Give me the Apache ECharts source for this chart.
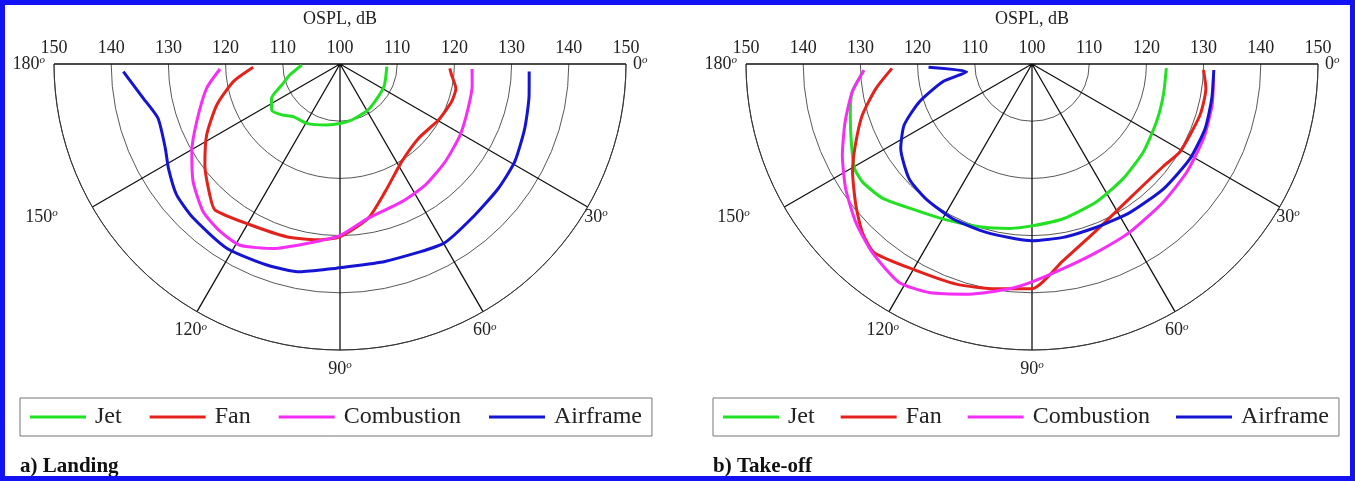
<!DOCTYPE html>
<html>
<head>
<meta charset="utf-8">
<script src="https://cdn.jsdelivr.net/npm/echarts@6/dist/echarts.min.js"></script>
<style>
html,body{margin:0;padding:0;background:#fff;}
#chart{width:1355px;height:481px;}
</style>
</head>
<body>
<div id="chart"></div>
<script>
// ---- data: [OSPL dB, directivity angle deg] ----
const seriesNames = ['Jet', 'Fan', 'Combustion', 'Airframe'];
const levelTicks = [100, 110, 120, 130, 140, 150];
const angleTicks = [0, 30, 60, 90, 120, 150, 180];
const panelTitles = ['a) Landing', 'b) Take-off'];

const landingJet = [[106.7,178.5],[109.0,167.6],[110.8,160.2],[113.4,153.3],[114.4,146.0],[113.5,138.8],[112.3,131.6],[111.9,119.3],[110.9,102.3],[110.4,90],[110.0,78.2],[109.4,58.4],[108.8,40.5],[108.6,25.4],[108.2,3.3]];
const landingFan = [[115.2,177.8],[118.9,170.6],[122.7,161.6],[126.4,152.0],[129.5,143.2],[132.3,134.8],[133.6,130.6],[132.2,119.2],[131.6,107.2],[131.0,97.5],[130.2,90],[127.4,79.6],[123.7,70.6],[120.2,57.7],[118.9,43.5],[119.8,29.7],[120.6,18.6],[120.7,11.9],[119.6,5.6],[119.2,2.3]];
const landingCombustion = [[121.0,177.6],[123.7,169.7],[127.0,158.1],[130.1,149.4],[132.9,141.3],[135.2,132.8],[136.0,125.6],[136.2,118.9],[134.3,109.9],[131.9,100.5],[130.0,90],[127.4,79.6],[126.4,65.9],[125.9,54.9],[125.1,42.9],[124.4,30.6],[123.7,19.1],[123.4,9.0],[123.1,2.2]];
const landingAirframe = [[137.9,178],[134.9,170.1],[133.2,163.4],[133.9,154.3],[135.1,148.7],[136.6,141.3],[137.2,133.6],[137.8,121.6],[137.4,110.0],[137.0,100.9],[135.7,91],[135.6,90],[135.4,77.2],[136.2,60],[135.4,48.2],[135.2,38.1],[135.0,29.2],[134.2,19.2],[133.5,9.3],[133.1,2.3]];

const takeoffJet = [[129.4,177.9],[131.8,171.2],[133.0,164.3],[134.4,156.7],[136.0,149.5],[136.1,145.1],[135.1,138.0],[132.4,127.2],[131.1,118.8],[129.9,107.8],[129.0,97.7],[128.3,90],[127.6,78.6],[126.6,64.9],[125.6,51.5],[124.8,38.3],[124.0,24.9],[123.6,13.3],[123.5,1.8]];
const takeoffFan = [[124.5,178.2],[127.6,171.1],[131.0,163.2],[134.0,155.3],[136.6,149.0],[139.5,141.2],[141.8,135.2],[143.0,130.0],[141.5,120.2],[140.7,109.0],[139.8,99.0],[139.3,90],[134.8,81],[131.2,68.8],[129.0,53.5],[129.1,38],[130.1,30.5],[130.7,16.9],[130.7,8.0],[130.0,2.0]];
const takeoffCombustion = [[129.4,177.9],[131.8,171.2],[134.2,162.8],[136.8,154.3],[139.2,146.2],[141.4,138.1],[143.2,130.3],[144.7,121.3],[143.8,114.2],[141.7,105.2],[139.5,95.7],[138.1,90],[136.2,81.4],[134.8,71.1],[134.0,59.8],[133.3,46.4],[133.0,34.9],[132.7,23.5],[132.3,12.9],[131.8,3.5]];
const takeoffAirframe = [[118.1,178.2],[111.5,173.3],[115.9,168.8],[120.8,161.4],[124.8,154.4],[127.3,147.2],[129.4,136.9],[130.0,128.2],[130.4,117.1],[130.5,105.2],[130.9,90],[130.8,79.8],[130.7,68.4],[131.1,56.5],[131.7,43.5],[132.2,30.9],[132.3,20.4],[132.0,10.8],[131.8,1.9]];

const panels = [
  [landingJet, landingFan, landingCombustion, landingAirframe],
  [takeoffJet, takeoffFan, takeoffCombustion, takeoffAirframe]
];

// ---- styling / layout ----
const colors = ['#22e022', '#e3221b', '#f52ef5', '#1414d2'];
const FONT = 'Liberation Serif';
const centers = [[340, 64], [1032, 64]];
const R = 286;
const legendLefts = [20, 713];
const legendGaps = [28, 26];
// label padding per angle tick: [top, right, left]
const labelPads = {0: [0, 0, 27], 30: [11, 0, 14], 60: [27, 0, 0], 90: [30, 0, 0], 120: [27, 0, 0], 150: [11, 52, 0], 180: [0, 29, 0]};

const rich = {};
Object.keys(labelPads).forEach(k => {
  const p = labelPads[k];
  rich['n' + k] = {fontSize: 18, fontFamily: FONT, color: '#222', padding: [p[0], 0, 0, p[2]]};
  rich['s' + k] = {fontSize: 11, fontFamily: FONT, fontStyle: 'italic', color: '#222', verticalAlign: 'top', padding: [p[0], p[1], 0, 0]};
});

const chart = echarts.init(document.getElementById('chart'), null, {renderer: 'canvas'});

const polar = [], angleAxis = [], radiusAxis = [], grid = [], xAxis = [], yAxis = [], legend = [], title = [], series = [];
centers.forEach((c, i) => {
  polar.push({center: c, radius: R});
  angleAxis.push({
    polarIndex: i, type: 'value', min: angleTicks[0], max: angleTicks[angleTicks.length - 1],
    interval: angleTicks[1] - angleTicks[0],
    startAngle: 0, endAngle: -180, clockwise: true,
    axisLine: {show: true, lineStyle: {color: '#333', width: 1}},
    axisTick: {show: false},
    splitLine: {show: true, lineStyle: {color: '#111', width: 1.3}},
    axisLabel: {
      margin: -20,
      formatter: v => '{n' + v + '|' + v + '}{s' + v + '|o}',
      rich
    }
  });
  radiusAxis.push({
    polarIndex: i, type: 'value', min: levelTicks[0], max: levelTicks[levelTicks.length - 1],
    interval: levelTicks[1] - levelTicks[0],
    axisLine: {show: false}, axisTick: {show: false}, axisLabel: {show: false},
    splitLine: {show: true, lineStyle: {color: '#444', width: 0.9}}
  });
  grid.push({left: c[0] - R, width: 2 * R, top: c[1], height: 1});
  xAxis.push({
    gridIndex: i, type: 'value', position: 'top',
    min: -(levelTicks[levelTicks.length - 1] - levelTicks[0]),
    max: levelTicks[levelTicks.length - 1] - levelTicks[0],
    interval: levelTicks[1] - levelTicks[0],
    axisLine: {show: false}, axisTick: {show: false}, splitLine: {show: false},
    axisLabel: {margin: 7, fontSize: 18, fontFamily: FONT, color: '#222',
      formatter: v => String(Math.abs(v) + levelTicks[0])},
    name: 'OSPL, dB', nameLocation: 'middle', nameGap: 36,
    nameTextStyle: {fontSize: 18, fontFamily: FONT, color: '#222'}
  });
  yAxis.push({gridIndex: i, type: 'value', show: false});
  legend.push({
    left: legendLefts[i], top: 398,
    data: seriesNames,
    icon: 'rect', itemWidth: 56, itemHeight: 3, itemGap: legendGaps[i],
    padding: [7, 10, 7, 10],
    borderColor: '#777', borderWidth: 1,
    textStyle: {fontSize: 24, fontFamily: FONT, color: '#222', padding: [0, 0, 0, 4]}
  });
  title.push({
    text: panelTitles[i], left: legendLefts[i] - 5, top: 451,
    textStyle: {fontSize: 21, fontWeight: 'bold', fontFamily: FONT, color: '#111'}
  });
  panels[i].forEach((d, k) => {
    series.push({
      name: seriesNames[k], type: 'line', coordinateSystem: 'polar', polarIndex: i,
      data: d, showSymbol: false, symbol: 'none', smooth: 0.2,
      lineStyle: {color: colors[k], width: 3}, itemStyle: {color: colors[k]},
      z: 3 + k
    });
  });
});

chart.setOption({
  backgroundColor: '#fff',
  animation: false,
  color: colors,
  polar, angleAxis, radiusAxis, grid, xAxis, yAxis, legend, title, series,
  graphic: [{
    type: 'rect', shape: {x: 2.5, y: 2.5, width: 1350, height: 476},
    style: {fill: 'none', stroke: '#1212f5', lineWidth: 5}, z: 100
  }]
});
</script>
</body>
</html>
